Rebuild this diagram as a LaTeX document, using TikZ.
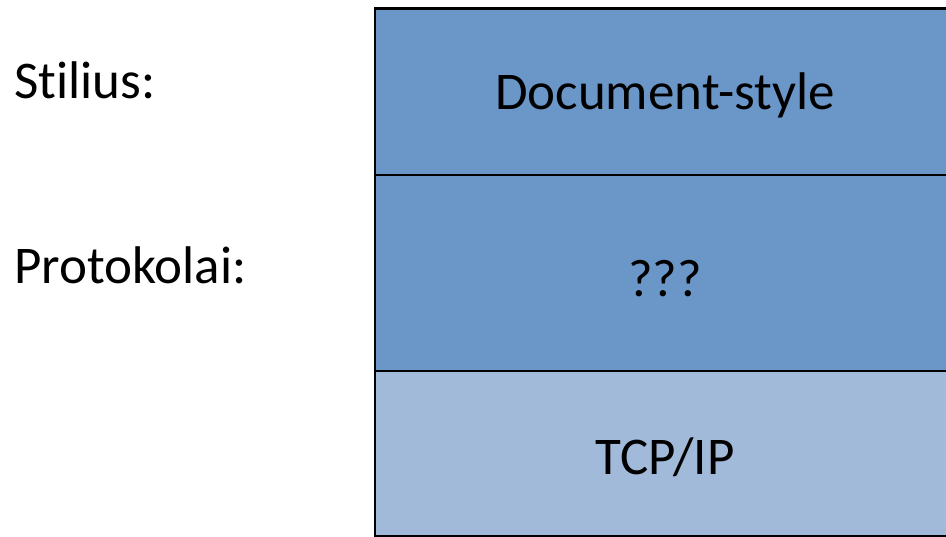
\documentclass[tikz,border=0pt]{standalone}
\usepackage{fontspec}
\setmainfont[Ligatures=CommonOff]{Carlito}
\definecolor{layerdark}{HTML}{6A96C8}
\definecolor{layerlight}{HTML}{A1BAD9}
\begin{document}
\begin{tikzpicture}[x=1pt,y=-1pt,
  layer/.style={draw=black,line width=2.6pt},
  label/.style={font=\fontsize{53}{63}\selectfont,anchor=base,inner sep=0pt},
  side/.style={label,anchor=base west}]
\useasboundingbox (0,0) rectangle (946,537);
\begin{scope}
\clip (0,0) rectangle (946,537);
% protocol stack layers
\draw[layer,fill=layerdark] (375,8.5) rectangle (960,175);
\draw[layer,fill=layerdark] (375,175) rectangle (960,371);
\draw[layer,fill=layerlight] (375,371) rectangle (960,536);
\end{scope}
\node[label] (doc) at (665,110) {Document-style};
\node[label] (q) at (665,297) {???};
\node[label] (tcp) at (665,475) {TCP/IP};
\node[side] (stil) at (14,99) {Stilius:};
\node[side] (prot) at (14,284) {Protokolai:};
\end{tikzpicture}
\end{document}
